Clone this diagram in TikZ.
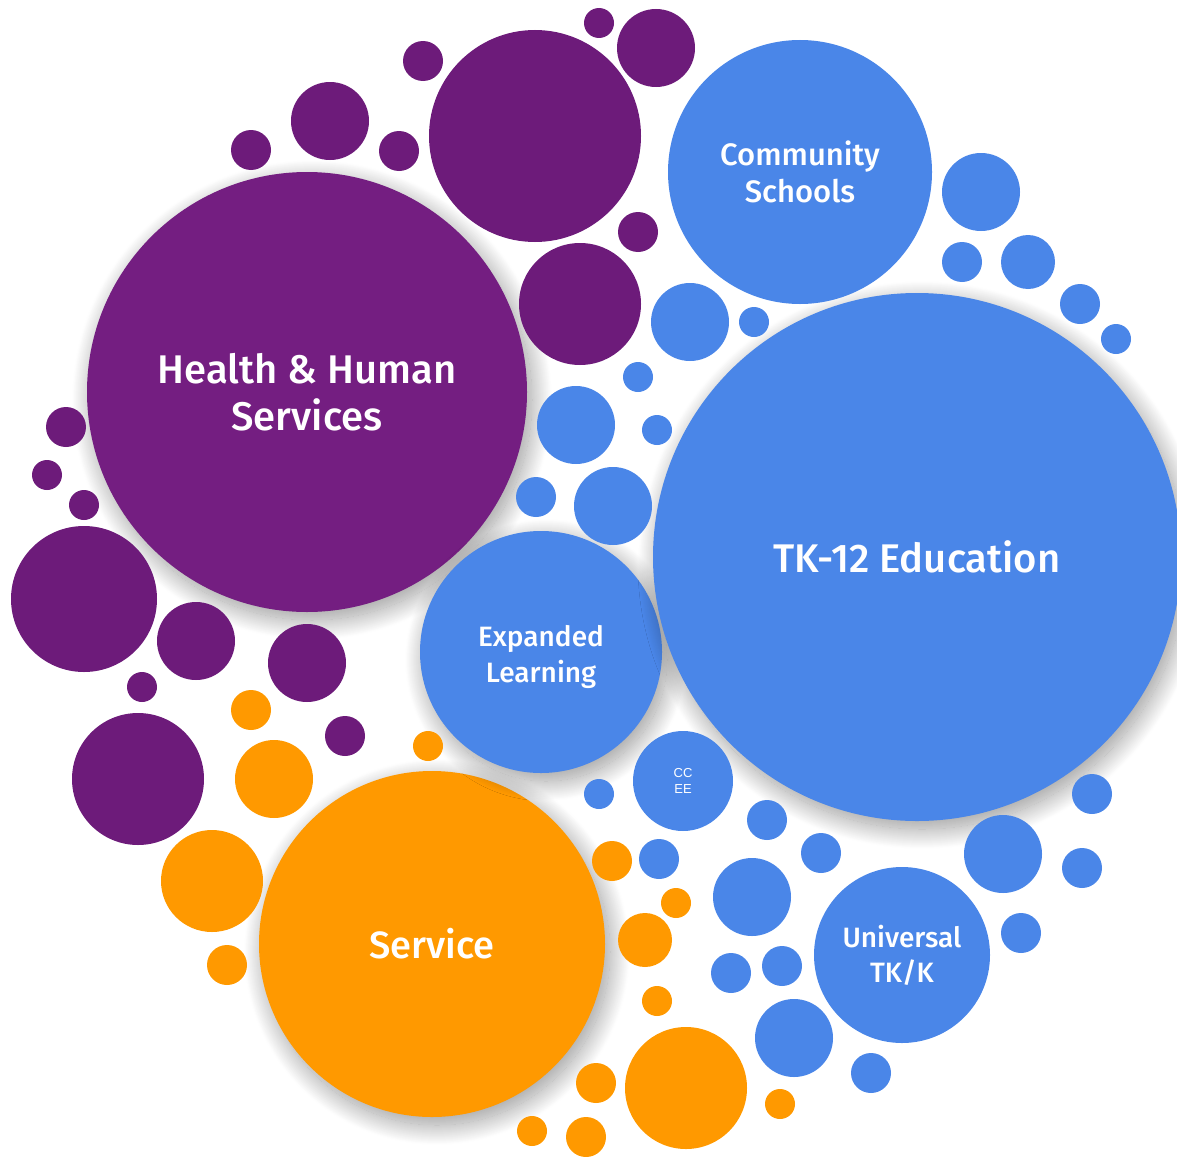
\documentclass[tikz,border=0pt]{standalone}
\usepackage{fontspec}
\setmainfont{Fira Sans}
\newfontfamily\labelfont{Fira Sans Medium}
\newfontfamily\smallfont{Liberation Sans}
\usepackage{tikz}
\usetikzlibrary{shadows.blur}

\definecolor{hhspurple}{HTML}{741E81}
\definecolor{dotpurple}{HTML}{6D1B7A}
\definecolor{edublue}{HTML}{4A86E8}
\definecolor{svcorange}{HTML}{FF9900}

\begin{document}
\begin{tikzpicture}[x=1pt,y=-1pt,
  bubble/.style={circle,draw=none,inner sep=0pt,text=white,align=center,font=\labelfont},
  softshadow/.style={blur shadow={shadow xshift=5pt,shadow yshift=-8pt,
    shadow blur radius=20pt,shadow blur steps=40,shadow opacity=40}}]
  \useasboundingbox (0,0) rectangle (1177,1156);

  % the big labelled bubbles
  \node[bubble,fill=hhspurple,minimum size=440pt,softshadow,
    font=\labelfont\fontsize{40}{47}\selectfont] (hhs) at (307,392)
    {Health \& Human\\Services};
  \node[bubble,fill=svcorange,minimum size=346pt,softshadow,
    font=\labelfont\fontsize{38}{44}\selectfont] (svc) at (432,944) {Service};
  \node[bubble,fill=edublue,minimum size=242pt,softshadow] (elo) at (541,652) {};
  \node[text=white,align=center,font=\labelfont\fontsize{28}{36}\selectfont]
    (elotext) at ([yshift=-5pt]elo.center) {Expanded\\Learning};
  \node[bubble,fill=edublue,minimum size=528pt,softshadow,
    font=\labelfont\fontsize{40}{47}\selectfont] (tk) at (917,557)
    {TK-12 Education};
  \node[bubble,fill=edublue,minimum size=264pt,
    font=\labelfont\fontsize{31}{37}\selectfont] (cs) at (800,172)
    {Community\\Schools};
  \node[bubble,fill=edublue,minimum size=176pt,
    font=\labelfont\fontsize{28}{35}\selectfont] (utk) at (902,955)
    {Universal\\TK/K};
  \node[bubble,fill=edublue,minimum size=100pt,
    font=\smallfont\fontsize{13}{16}\selectfont] (ccee) at (683,781)
    {CC\\EE};

  % small bubbles
  \foreach \x/\y/\r in {535/136/106, 580/304/61, 656/48/39, 599/23/15,
      423/61/20, 330/121/39, 251/150/20, 399/151/20, 638/232/20,
      66/427/20, 47/475/15, 84/505/15, 84/599/73, 196/641/39,
      307/663/39, 142/687/15, 345/736/20, 138/779/66}
    \fill[dotpurple] (\x,\y) circle (\r);
  \foreach \x/\y/\r in {981/192/39, 962/262/20, 1028/262/27, 1080/304/20,
      1116/339/15, 690/322/39, 754/322/15, 638/377/15, 576/425/39,
      657/430/15, 536/497/20, 613/506/39, 599/794/15, 1092/794/20,
      1003/854/39, 1082/868/20, 767/820/20, 821/853/20, 659/859/20,
      752/897/39, 1021/933/20, 731/973/20, 782/966/20, 794/1038/39,
      871/1073/20}
    \fill[edublue] (\x,\y) circle (\r);
  \foreach \x/\y/\r in {251/710/20, 274/779/39, 428/746/15, 212/881/51,
      227/965/20, 612/861/20, 676/903/15, 645/940/27, 657/1001/15,
      686/1088/61, 596/1083/20, 780/1104/15, 532/1131/15, 586/1137/20}
    \fill[svcorange] (\x,\y) circle (\r);
\end{tikzpicture}
\end{document}
